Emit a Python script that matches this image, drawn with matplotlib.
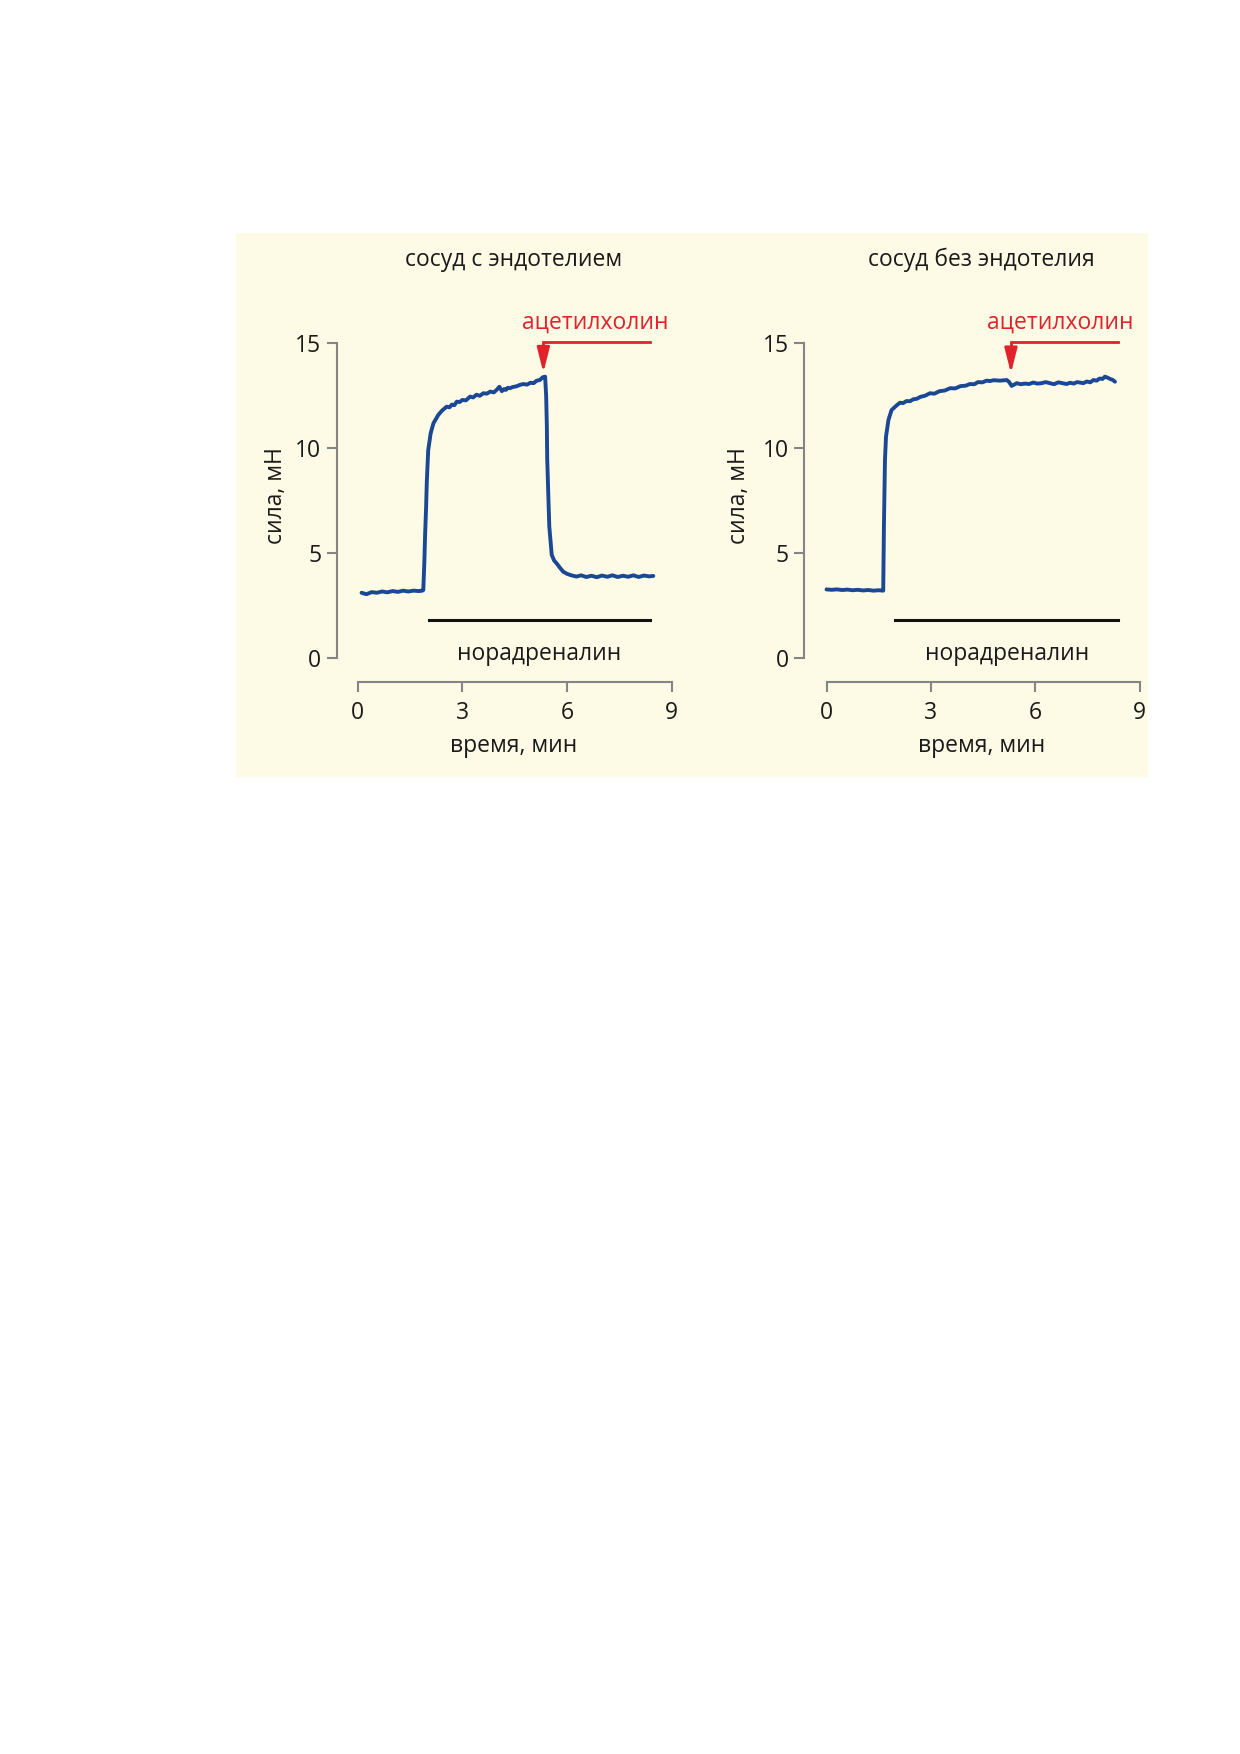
import matplotlib
matplotlib.use("Agg")
import matplotlib.pyplot as plt
from matplotlib.patches import FancyArrowPatch

plt.rcParams['font.family'] = ['Open Sans', 'DejaVu Sans']

# ---------------- data ----------------
titles = ["сосуд с эндотелием", "сосуд без эндотелия"]
ylabel = "сила, мН"
xlabel = "время, мин"
drug_label = "ацетилхолин"
bar_label = "норадреналин"
xticks = [0, 3, 6, 9]
yticks = [0, 5, 10, 15]

# vessel with endothelium
t_endo = [0.11, 0.25, 0.4, 0.55, 0.7, 0.85, 1.0, 1.15, 1.3, 1.45, 1.6, 1.75, 1.85,
          1.88, 1.91, 1.93, 1.96, 1.98, 2.02, 2.09, 2.17, 2.31, 2.42, 2.55, 2.63, 2.7, 2.77, 2.84,
          2.92, 3.0, 3.1, 3.22, 3.31, 3.4, 3.5, 3.6, 3.7, 3.8, 3.9, 3.98, 4.06, 4.13, 4.2, 4.25,
          4.3, 4.36, 4.45, 4.55, 4.65, 4.75, 4.85, 4.95, 5.04,
          5.13, 5.22, 5.3, 5.37, 5.4, 5.42, 5.43, 5.46, 5.49, 5.56, 5.63, 5.70, 5.8,
          5.89, 6.0, 6.12, 6.27, 6.4, 6.55, 6.7, 6.85, 7.0, 7.15, 7.3, 7.45, 7.6,
          7.75, 7.9, 8.05, 8.2, 8.35, 8.47]
f_endo = [3.12, 3.05, 3.15, 3.12, 3.18, 3.14, 3.2, 3.16, 3.22, 3.18, 3.22, 3.2, 3.22,
          3.25, 4.6, 5.8, 7.2, 8.4, 9.9, 10.71, 11.19, 11.59, 11.8, 11.98, 11.95, 12.08, 12.05, 12.22,
          12.2, 12.3, 12.28, 12.46, 12.42, 12.55, 12.5, 12.62, 12.6, 12.7, 12.66, 12.78, 12.93, 12.72,
          12.82, 12.78, 12.88, 12.86, 12.92, 12.95, 13.02, 13.06, 13.03, 13.12, 13.1,
          13.22, 13.25, 13.38, 13.41, 12.5, 11.03, 9.5, 7.86, 6.27, 4.92, 4.65, 4.52, 4.3,
          4.12, 4.02, 3.95, 3.89, 3.95, 3.87, 3.93, 3.86, 3.94, 3.88, 3.95, 3.87, 3.93,
          3.88, 3.95, 3.87, 3.94, 3.9, 3.92]

# vessel without endothelium
t_noendo = [0.0, 0.15, 0.3, 0.45, 0.6, 0.75, 0.9, 1.05, 1.2, 1.35, 1.5, 1.63,
            1.65, 1.68, 1.71, 1.78, 1.87, 2.0, 2.11, 2.2, 2.3, 2.4, 2.49, 2.6, 2.7, 2.83, 2.97,
            3.1, 3.25, 3.4, 3.55, 3.7, 3.85, 4.0, 4.12, 4.25, 4.35, 4.48, 4.6, 4.7, 4.8,
            4.99, 5.18, 5.25, 5.32, 5.47, 5.58, 5.7, 5.82, 5.94, 6.06, 6.18, 6.3,
            6.42, 6.54, 6.66, 6.78, 6.9, 7.0, 7.1, 7.2, 7.28, 7.38, 7.48, 7.58, 7.67, 7.76,
            7.85, 7.93, 8.0, 8.08, 8.15, 8.22, 8.29]
f_noendo = [3.28, 3.26, 3.28, 3.25, 3.27, 3.24, 3.26, 3.23, 3.25, 3.22, 3.24, 3.22,
            6.27, 9.44, 10.55, 11.35, 11.82, 12.02, 12.17, 12.15, 12.25, 12.24, 12.33, 12.36, 12.45,
            12.5, 12.62, 12.6, 12.72, 12.75, 12.86, 12.85, 12.96, 12.98, 13.06, 13.05, 13.15, 13.14,
            13.22, 13.2, 13.24, 13.22, 13.25, 13.15, 12.97, 13.1, 13.05, 13.08, 13.06, 13.13,
            13.08, 13.1, 13.15, 13.1, 13.05, 13.14, 13.1, 13.06, 13.12, 13.08, 13.15, 13.13,
            13.1, 13.18, 13.14, 13.25, 13.22, 13.32, 13.3, 13.41, 13.36, 13.3, 13.26, 13.17]

traces = [(t_endo, f_endo), (t_noendo, f_noendo)]

# drug (acetylcholine) marker: time of application, end of line
ach_time = [5.32, 5.30]
ach_end = [8.38, 8.38]
ach_tip = [13.6, 13.57]
ach_level = 15.05
ach_text_x = [6.82, 6.72]

# noradrenaline bar
na_start = [2.05, 1.97]
na_end = [8.38, 8.38]
na_level = 1.82

# ---------------- layout ----------------
W, H = 1240, 1754
fig = plt.figure(figsize=(W / 100, H / 100), dpi=100)
fig.patch.set_facecolor('white')

BG = '#FDFBE5'
bg_ax = fig.add_axes([236 / W, 1 - 777 / H, (1148 - 236) / W, (777 - 233) / H], zorder=-5)
bg_ax.set_facecolor(BG)
bg_ax.set_xticks([])
bg_ax.set_yticks([])
for s in bg_ax.spines.values():
    s.set_visible(False)

BLUE = '#1A4894'
RED = '#E0222A'
GREY = '#858585'
TXT = '#1A1A1A'
FS = 16.5

ylim = (-1.13, 15.3)
ax_bottom = 1 - 682.0 / H
ax_height = (15.3 + 1.13) * 21.0 / H
specs = [dict(spine_px=336.7, zero_px=357.7, ppm=34.9),
         dict(spine_px=804.3, zero_px=826.5, ppm=34.8)]

for i, sp in enumerate(specs):
    x0 = -(sp['zero_px'] - sp['spine_px']) / sp['ppm']
    x1 = 9.2
    ax = fig.add_axes([sp['spine_px'] / W, ax_bottom, (x1 - x0) * sp['ppm'] / W, ax_height])
    ax.set_facecolor('none')
    ax.set_xlim(x0, x1)
    ax.set_ylim(*ylim)
    for s in ['top', 'right']:
        ax.spines[s].set_visible(False)
    for s in ['left', 'bottom']:
        ax.spines[s].set_color(GREY)
        ax.spines[s].set_linewidth(1.5)
    ax.spines['left'].set_bounds(0, 15)
    ax.spines['bottom'].set_bounds(0, 9)
    ax.set_xticks(xticks)
    ax.set_yticks(yticks)
    ax.tick_params(axis='both', colors=GREY, labelcolor=TXT, labelsize=FS,
                   length=7, width=1.5)
    ax.tick_params(axis='x', pad=7)
    ax.tick_params(axis='y', pad=4)

    t, f = traces[i]
    ax.plot(t, f, color=BLUE, lw=2.8, solid_joinstyle='round', solid_capstyle='round', zorder=3)

    # noradrenaline bar
    ax.plot([na_start[i], na_end[i]], [na_level, na_level], color='#111111', lw=2.2)
    ax.text(5.2, -0.07, bar_label, ha='center', va='baseline', fontsize=FS, color=TXT)

    # acetylcholine arrow
    ax.plot([ach_end[i], ach_time[i], ach_time[i]], [ach_level, ach_level, ach_tip[i] + 0.8],
            color=RED, lw=2.0, clip_on=False, solid_joinstyle='miter')
    arr = FancyArrowPatch((ach_time[i], ach_level - 0.3), (ach_time[i], ach_tip[i]),
                          arrowstyle='-|>,head_length=1.5,head_width=0.38',
                          mutation_scale=10, color=RED, lw=2.0, clip_on=False,
                          shrinkA=0, shrinkB=0)
    ax.add_patch(arr)
    ax.text(ach_text_x[i], 15.71, drug_label, ha='center', va='baseline', fontsize=FS,
            color=RED, clip_on=False)

    # titles & labels
    ax.text(4.46, 18.67, titles[i], ha='center', va='baseline', fontsize=FS, color=TXT,
            clip_on=False)
    ax.text(4.47, -4.45, xlabel, ha='center', va='baseline', fontsize=FS, color=TXT,
            clip_on=False)
    ax.text(-2.33 if i == 0 else -2.5, 7.75, ylabel, ha='center', va='center', rotation=90,
            fontsize=FS, color=TXT, clip_on=False)

fig.savefig('out.png', dpi=100, facecolor='white')
